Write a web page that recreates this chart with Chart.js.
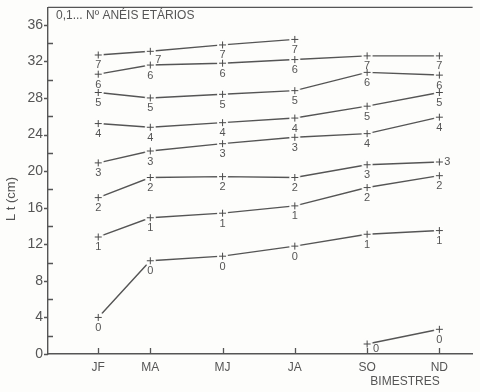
<!DOCTYPE html>
<html>
<head>
<meta charset="utf-8">
<script src="https://cdn.jsdelivr.net/npm/chart.js@4/dist/chart.umd.min.js"></script>
<style>
  html,body{margin:0;padding:0;background:#fdfdfb;}
  #wrap{width:480px;height:392px;}
</style>
</head>
<body>
<div id="wrap"><canvas id="lt-chart" width="480" height="392"></canvas></div>
<script>
// Bimonthly sampling periods and where they sit on the x scale
const bimestres = ['JF', 'MA', 'MJ', 'JA', 'SO', 'ND'];
const bimestrePos = [1.28, 2, 3, 4, 5, 6];
const yTicks = [0, 4, 8, 12, 16, 20, 24, 28, 32, 36];

// Mean total length (cm) per cohort, one value per bimestre
const coorteA = [32.7, 33.1, 33.8, 34.4, null, null];
const coorteB = [30.6, 31.6, 31.8, 32.2, 32.6, 32.6];
const coorteC = [28.6, 28.0, 28.4, 28.8, 30.8, 30.5];
const coorteD = [25.2, 24.8, 25.3, 25.8, 27.1, 28.6];
const coorteE = [20.9, 22.2, 23.0, 23.7, 24.1, 25.9];
const coorteF = [17.1, 19.3, 19.4, 19.3, 20.7, 21.0];
const coorteG = [12.8, 14.9, 15.4, 16.2, 18.2, 19.5];
const coorteH = [4.0, 10.2, 10.7, 11.8, 13.1, 13.5];
const coorteI = [null, null, null, null, 1.1, 2.7];

// Number of age rings read at each point
const aneisA = [7, 7, 7, 7, null, null];
const aneisB = [6, 6, 6, 6, 7, 7];
const aneisC = [5, 5, 5, 5, 6, 6];
const aneisD = [4, 4, 4, 4, 5, 5];
const aneisE = [3, 3, 3, 3, 4, 4];
const aneisF = [2, 2, 2, 2, 3, 3];
const aneisG = [1, 1, 1, 1, 2, 2];
const aneisH = [0, 0, 0, 0, 1, 1];
const aneisI = [null, null, null, null, 0, 0];

const coortes = [coorteA, coorteB, coorteC, coorteD, coorteE, coorteF, coorteG, coorteH, coorteI];
const aneis = [aneisA, aneisB, aneisC, aneisD, aneisE, aneisF, aneisG, aneisH, aneisI];

const INK = '#555';
const BG = '#fdfdfb';
const FONT = "'Liberation Sans', Arial, sans-serif";

// '+' marker with a small clear halo so the lines stop short of it
function plusMarker(){
  const c = document.createElement('canvas');
  c.width = 13; c.height = 13;
  const g = c.getContext('2d');
  g.fillStyle = BG;
  g.beginPath(); g.arc(6.5, 6.5, 5.5, 0, Math.PI*2); g.fill();
  g.strokeStyle = '#4a4a4a'; g.lineWidth = 1;
  g.beginPath();
  g.moveTo(3, 6.5); g.lineTo(10, 6.5);
  g.moveTo(6.5, 3); g.lineTo(6.5, 10);
  g.stroke();
  return c;
}
const marker = plusMarker();

// a few ring numbers sit beside the marker instead of under it
const labelShift = { '0-1': [8, 8], '5-5': [8, 0], '8-4': [9, 5] };

const datasets = coortes.map((serie, k) => ({
  data: serie.map((v, i) => v == null ? null : { x: bimestrePos[i], y: v }).filter(p => p),
  aneis: aneis[k].filter(n => n != null),
  firstIdx: serie.findIndex(v => v != null),
  borderColor: INK,
  borderWidth: 1.4,
  pointStyle: marker,
  pointRadius: 6,
  pointHoverRadius: 6,
  fill: false,
  tension: 0
}));

const decor = {
  id: 'decor',
  afterDraw(chart){
    const { ctx, chartArea: a, scales: { x, y } } = chart;
    ctx.save();
    ctx.strokeStyle = INK; ctx.lineWidth = 1.3;
    // frame top
    ctx.beginPath(); ctx.moveTo(a.left, a.top); ctx.lineTo(a.right, a.top); ctx.stroke();
    // y ticks: majors outward, minors inward
    ctx.beginPath();
    for (let v = 0; v <= 36; v += 2){
      const py = Math.round(y.getPixelForValue(v)) + 0.5;
      if (v % 4 === 0){ ctx.moveTo(a.left - 4, py); ctx.lineTo(a.left, py); }
      else { ctx.moveTo(a.left, py); ctx.lineTo(a.left + 5, py); }
    }
    // x ticks point up into the plot
    bimestrePos.forEach(v => {
      const px = Math.round(x.getPixelForValue(v)) + 0.5;
      ctx.moveTo(px, a.bottom); ctx.lineTo(px, a.bottom - 6);
    });
    ctx.stroke();

    ctx.fillStyle = INK;
    // ring numbers
    ctx.font = '11px ' + FONT;
    ctx.textAlign = 'center'; ctx.textBaseline = 'middle';
    chart.data.datasets.forEach((ds, k) => {
      chart.getDatasetMeta(k).data.forEach((pt, j) => {
        const key = k + '-' + (ds.firstIdx + j);
        const [dx, dy] = labelShift[key] || [0, 10];
        ctx.fillText(String(ds.aneis[j]), pt.x + dx, pt.y + dy + 0.5);
      });
    });
    // legend note
    ctx.font = '12px ' + FONT;
    ctx.textAlign = 'left';
    ctx.fillText('0,1... Nº ANÉIS ETÁRIOS', 56, 16);
    // x axis title
    ctx.textAlign = 'center';
    ctx.fillText('BIMESTRES', 405, 382);
    // y axis title
    ctx.font = '13px ' + FONT;
    ctx.translate(11, 199);
    ctx.rotate(-Math.PI/2);
    ctx.fillText('L t (cm)', 0, 0);
    ctx.restore();
  }
};

const bg = {
  id: 'bg',
  beforeDraw(chart){
    const c = chart.ctx;
    c.save(); c.fillStyle = BG; c.fillRect(0, 0, chart.width, chart.height); c.restore();
  }
};

new Chart(document.getElementById('lt-chart'), {
  type: 'line',
  data: { datasets },
  options: {
    responsive: false,
    animation: false,
    events: [],
    layout: { padding: { top: 5, left: 0, right: 0, bottom: 0 } },
    plugins: { legend: { display: false }, tooltip: { enabled: false } },
    scales: {
      x: {
        type: 'linear',
        min: 0.585,
        max: 6.46,
        afterBuildTicks: s => { s.ticks = bimestrePos.map(v => ({ value: v })); },
        afterFit: s => { s.height = 38; s.paddingLeft = 0; s.paddingRight = 0; },
        grid: { display: false, drawTicks: false },
        border: { color: INK, width: 1.4 },
        ticks: {
          padding: 6,
          color: INK,
          font: { family: FONT, size: 12 },
          maxRotation: 0,
          callback: (v, i) => bimestres[i]
        }
      },
      y: {
        min: 0,
        max: 37.9,
        afterBuildTicks: s => { s.ticks = yTicks.map(v => ({ value: v })); },
        afterFit: s => { s.width = 48; s.paddingTop = 0; s.paddingBottom = 0; },
        grid: { display: false, drawTicks: false },
        border: { color: INK, width: 1.4 },
        ticks: {
          padding: 5,
          color: INK,
          font: { family: FONT, size: 14 },
          callback: v => String(v)
        }
      }
    }
  },
  plugins: [bg, decor]
});
</script>
</body>
</html>
